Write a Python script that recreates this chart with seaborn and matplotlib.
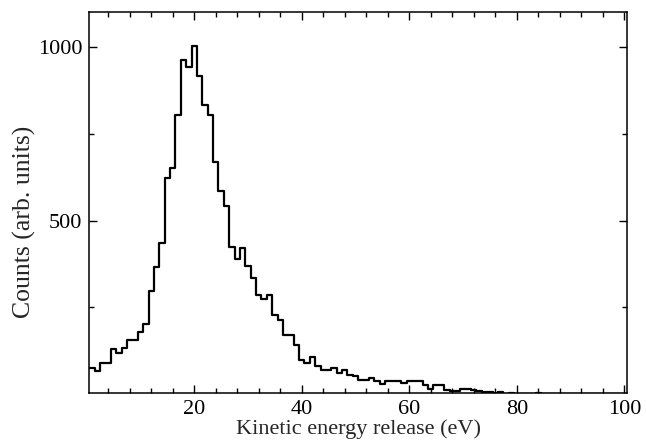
import numpy as np
import pandas as pd
import matplotlib
matplotlib.use("Agg")
import matplotlib.pyplot as plt
import seaborn as sns
from matplotlib.ticker import MultipleLocator, FixedLocator

# Bin centres (eV) and counts
energy = list(range(1, 101))
counts = [
    77, 67, 89, 89, 130, 120, 132, 156, 156, 178,
    202, 298, 365, 435, 622, 652, 803, 962, 942, 1002,
    915, 832, 805, 668, 585, 542, 425, 388, 422, 370,
    335, 286, 273, 286, 228, 213, 170, 170, 141, 100,
    90, 107, 81, 71, 71, 76, 62, 71, 57, 52,
    42, 42, 47, 37, 30, 39, 39, 37, 33, 37,
    39, 38, 28, 16, 26, 26, 13, 11, 11, 16,
    16, 13, 9, 7, 7, 5, 7, 2, 3, 2,
    1, 2, 1, 3, 1, 1, 2, 1, 0, 1,
    0, 1, 0, 0, 1, 0, 0, 0, 0, 0,
]
bin_edges = [e - 0.5 for e in energy] + [energy[-1] + 0.5]

x_major = [20, 40, 60, 80, 100]
y_major = [500, 1000]

df = pd.DataFrame({"energy": energy, "counts": counts})

sns.set_theme(style="ticks")
plt.rcParams["font.family"] = ["Liberation Serif", "DejaVu Serif"]

fig = plt.figure(figsize=(6.46, 4.44), dpi=100)
ax = fig.add_axes([0.1385, 0.115, 0.8321, 0.858])

sns.histplot(data=df, x="energy", weights="counts", bins=bin_edges,
             element="step", fill=False, color="black", linewidth=1.6, ax=ax)

ax.set_xlim(0.5, 100.5)
ax.set_ylim(4, 1100)

ax.xaxis.set_major_locator(FixedLocator(x_major))
ax.xaxis.set_minor_locator(MultipleLocator(4))
ax.yaxis.set_major_locator(FixedLocator(y_major))
ax.yaxis.set_minor_locator(MultipleLocator(250))

ax.tick_params(which="both", direction="in", top=True, right=True,
               colors="black", width=1.0)
ax.tick_params(which="major", length=6, labelsize=16, pad=5)
ax.tick_params(which="minor", length=3.5)

for s in ax.spines.values():
    s.set_linewidth(1.1)
    s.set_color("black")

ax.set_xlabel("Kinetic energy release (eV)", fontsize=16, labelpad=0)
ax.set_ylabel("Counts (arb. units)", fontsize=18.5)
ax.yaxis.set_label_coords(-0.1, 0.45)

fig.savefig("out.png", dpi=100, facecolor="white")
